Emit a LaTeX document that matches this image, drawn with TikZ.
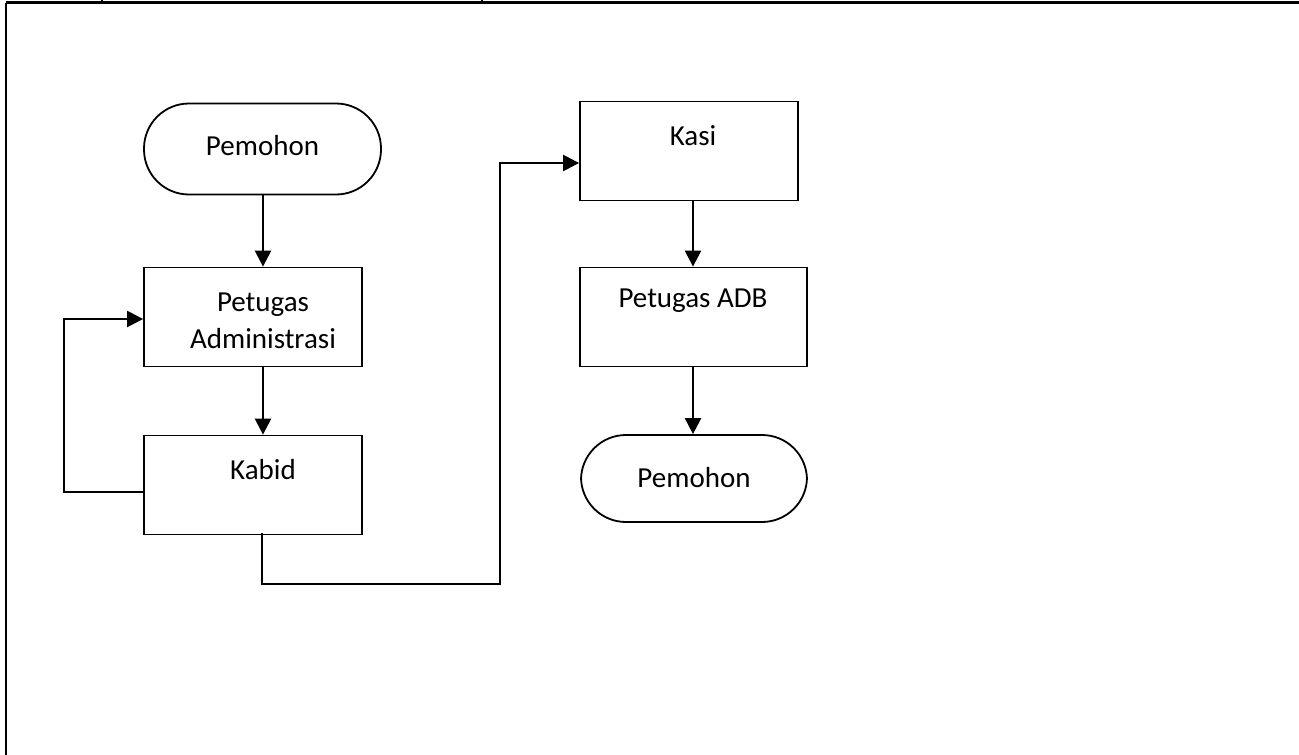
\documentclass[tikz,border=0pt]{standalone}
\usepackage{fontspec}
\setmainfont{Carlito}
\usetikzlibrary{arrows.meta}
\begin{document}
\begin{tikzpicture}[x=1pt,y=-1pt,
  box/.style={draw,line width=1.8pt,minimum width=218pt,minimum height=99pt,inner sep=0pt},
  term/.style={draw,line width=1.8pt,rounded corners=45pt,minimum height=91pt,inner sep=0pt},
  lbl/.style={font=\fontsize{29}{37}\selectfont,align=center,inner sep=0pt},
  conn/.style={line width=2.4pt,-{Triangle[length=16pt,width=16pt]}},
  frame/.style={line width=3pt}]
\useasboundingbox (0,0) rectangle (1299,755);
% table frame
\coordinate (tl) at (6,2.5);
\coordinate (tr) at (1299,2.5);
\coordinate (bl) at (6,755);
\draw[frame] (tl) -- (tr);
\draw[line width=2.2pt] (tl) -- (bl);
\coordinate (t1a) at (102,0); \coordinate (t1b) at (102,2.5);
\coordinate (t2a) at (482,0); \coordinate (t2b) at (482,2.5);
\draw[line width=1.8pt] (t1a) -- (t1b);
\draw[line width=1.8pt] (t2a) -- (t2b);
% nodes
\node[term,minimum width=237pt] (pem1) at (262.5,149) {};
\node[lbl] (pem1t) at (262.5,146) {Pemohon};
\node[box] (pa) at (253,317) {};
\node[lbl] (pat) at (263,321) {Petugas\\Administrasi};
\node[box] (kabid) at (253,485) {};
\node[lbl] (kabidt) at (263,470) {Kabid};
\node[box] (kasi) at (689,151) {};
\node[lbl] (kasit) at (693,136) {Kasi};
\node[box,minimum width=227pt] (adb) at (693.5,317) {};
\node[lbl] (adbt) at (693,301) {Petugas ADB};
\node[term,minimum width=226pt,minimum height=87pt] (pem2) at (694,478.5) {};
\node[lbl] (pem2t) at (694,478) {Pemohon};
% connectors
\draw[conn] (pem1.south -| 263,0) -- (pa.north -| 263,0);
\draw[conn] (pa.south -| 263,0) -- (kabid.north -| 263,0);
\coordinate (fb0) at (144,492);
\coordinate (fb1) at (64,492);
\coordinate (fb2) at (64,319);
\draw[conn] (fb0) -- (fb1) -- (fb2) -- (pa.west |- fb2);
\coordinate (k0) at (262,533);
\coordinate (k1) at (262,584);
\coordinate (k2) at (500,584);
\coordinate (k3) at (500,163);
\draw[conn] (k0) -- (k1) -- (k2) -- (k3) -- (kasi.west |- k3);
\draw[conn] (kasi.south -| 693,0) -- (adb.north -| 693,0);
\draw[conn] (adb.south -| 693,0) -- (pem2.north -| 693,0);
\end{tikzpicture}
\end{document}
